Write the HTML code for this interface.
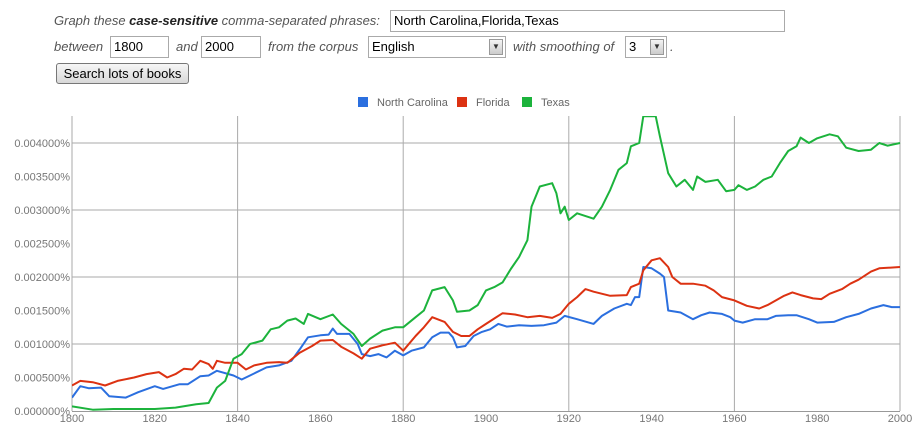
<!DOCTYPE html>
<html><head><meta charset="utf-8"><style>
body{margin:0;width:916px;height:437px;background:#fff;font-family:"Liberation Sans",sans-serif;position:relative;overflow:hidden}
.t{position:absolute;font-style:italic;font-size:13px;color:#555;}
.in{position:absolute;border:1px solid #aaa;background:#fff;font-size:13px;color:#000;box-sizing:border-box;padding:2px 3px;height:22px;line-height:16px}
.sel .arr{position:absolute;right:2px;top:2px;width:14px;height:16px;border:1px solid #999;background:linear-gradient(#f4f4f4,#ccc);box-sizing:border-box;font-size:8px;text-align:center;line-height:14px;color:#333}
</style></head><body>
<span class="t" style="left:54px;top:13px">Graph these <b style="color:#222">case-sensitive</b> comma-separated phrases:</span>
<div class="in" style="left:390px;top:10px;width:395px">North Carolina,Florida,Texas</div>
<span class="t" style="left:54px;top:39px">between</span>
<div class="in" style="left:110px;top:36px;width:59px">1800</div>
<span class="t" style="left:176px;top:39px">and</span>
<div class="in" style="left:201px;top:36px;width:60px">2000</div>
<span class="t" style="left:268px;top:39px">from the corpus</span>
<div class="in sel" style="left:368px;top:36px;width:138px">English<span class="arr">▼</span></div>
<span class="t" style="left:513px;top:39px">with smoothing of</span>
<div class="in sel" style="left:625px;top:36px;width:42px">3<span class="arr">▼</span></div>
<span class="t" style="left:670px;top:39px">.</span>
<div style="position:absolute;left:56px;top:63px;width:133px;height:21px;box-sizing:border-box;border:1px solid #777;border-radius:3px;background:linear-gradient(#f6f6f6,#d8d8d8);font-size:13px;text-align:center;line-height:19px;color:#000">Search lots of books</div>
<svg id="chart" width="916" height="437" style="position:absolute;left:0;top:0"></svg>
<script>
const ncYears=[1800,1802,1804,1807,1809,1813,1816,1820,1822,1826,1828,1831,1833,1835,1839,1841,1843,1847,1850,1853,1855,1857,1860,1862,1863,1864,1867,1869,1870,1872,1874,1876,1878,1880,1882,1885,1887,1889,1891,1892,1893,1895,1897,1899,1901,1903,1905,1908,1911,1914,1917,1919,1922,1926,1928,1931,1934,1935,1936,1937,1938,1940,1942,1943,1944,1947,1950,1952,1954,1957,1959,1960,1962,1965,1968,1970,1973,1975,1978,1980,1984,1987,1990,1993,1996,1998,2000];
const ncValues=[0.2,0.37,0.34,0.35,0.22,0.2,0.28,0.37,0.33,0.4,0.4,0.52,0.53,0.6,0.53,0.47,0.53,0.65,0.68,0.75,0.92,1.1,1.13,1.14,1.23,1.15,1.15,1.0,0.85,0.82,0.85,0.8,0.9,0.83,0.9,0.95,1.1,1.17,1.17,1.1,0.95,0.97,1.12,1.18,1.22,1.3,1.26,1.28,1.27,1.28,1.32,1.42,1.37,1.3,1.42,1.53,1.6,1.58,1.7,1.7,2.15,2.13,2.05,2.0,1.5,1.47,1.37,1.43,1.47,1.45,1.4,1.35,1.32,1.37,1.37,1.42,1.43,1.43,1.37,1.32,1.33,1.4,1.45,1.53,1.58,1.55,1.55];
const flYears=[1800,1802,1805,1808,1811,1815,1818,1821,1823,1825,1827,1829,1831,1833,1834,1835,1837,1840,1842,1844,1847,1850,1852,1855,1858,1860,1863,1865,1868,1870,1872,1875,1878,1880,1883,1885,1887,1890,1892,1894,1896,1898,1900,1902,1904,1907,1910,1913,1916,1918,1920,1922,1924,1926,1930,1934,1935,1937,1938,1940,1942,1944,1945,1947,1950,1953,1955,1957,1960,1963,1966,1968,1972,1974,1976,1979,1981,1983,1986,1988,1990,1993,1995,2000];
const flValues=[0.38,0.45,0.43,0.38,0.45,0.5,0.55,0.58,0.5,0.55,0.63,0.62,0.75,0.7,0.63,0.75,0.72,0.72,0.62,0.68,0.72,0.73,0.72,0.87,0.97,1.05,1.06,0.96,0.86,0.78,0.93,0.98,1.02,0.9,1.12,1.25,1.4,1.33,1.18,1.12,1.12,1.22,1.3,1.38,1.46,1.44,1.4,1.42,1.39,1.45,1.6,1.7,1.82,1.78,1.72,1.73,1.85,1.9,2.1,2.25,2.28,2.15,2.0,1.9,1.9,1.87,1.8,1.7,1.65,1.57,1.53,1.58,1.72,1.77,1.73,1.68,1.67,1.75,1.82,1.9,1.96,2.08,2.13,2.15];
const txYears=[1800,1805,1810,1820,1825,1830,1833,1835,1837,1839,1841,1843,1846,1848,1850,1852,1854,1856,1857,1860,1863,1865,1868,1870,1872,1875,1878,1880,1883,1885,1887,1890,1892,1893,1896,1898,1900,1902,1904,1906,1908,1910,1911,1913,1916,1917,1918,1919,1920,1922,1926,1928,1930,1932,1934,1935,1937,1938,1941,1942,1944,1946,1948,1950,1951,1953,1956,1958,1960,1961,1963,1965,1967,1969,1971,1973,1975,1976,1978,1980,1983,1985,1987,1990,1993,1995,1997,2000];
const txValues=[0.07,0.02,0.03,0.03,0.05,0.1,0.12,0.35,0.45,0.78,0.85,1.0,1.05,1.22,1.25,1.35,1.38,1.3,1.45,1.37,1.44,1.3,1.15,0.97,1.08,1.2,1.25,1.25,1.4,1.5,1.8,1.85,1.65,1.48,1.5,1.58,1.8,1.85,1.92,2.12,2.3,2.55,3.05,3.35,3.4,3.25,2.95,3.05,2.85,2.95,2.87,3.05,3.3,3.6,3.7,3.95,4.0,4.4,4.4,4.1,3.55,3.35,3.45,3.3,3.5,3.42,3.45,3.28,3.3,3.37,3.3,3.35,3.45,3.5,3.7,3.88,3.95,4.08,4.0,4.07,4.13,4.1,3.93,3.88,3.9,4.0,3.96,4.0];
const yTickValues=[0,0.5,1,1.5,2,2.5,3,3.5,4];
const yTickLabels=["0.000000%","0.000500%","0.001000%","0.001500%","0.002000%","0.002500%","0.003000%","0.003500%","0.004000%"];
const xTicks=[1800,1820,1840,1860,1880,1900,1920,1940,1960,1980,2000];
const seriesNames=["North Carolina","Florida","Texas"];
const seriesColors=["#2b6fdf","#dc3212","#1cb33c"];

const svg=document.getElementById('chart');const NS='http://www.w3.org/2000/svg';
const X=y=>72+(y-1800)*(900-72)/200;
const Y=v=>411-v*67;
function mk(t,a,p){const e=document.createElementNS(NS,t);for(const k in a)e.setAttribute(k,a[k]);(p||svg).appendChild(e);return e;}
const clip=mk('clipPath',{id:'pc'});mk('rect',{x:72,y:116,width:829,height:296},clip);
// gridlines
[1,2,3,4].forEach(v=>{const l=mk('line',{x1:72,x2:900,y1:Y(v),y2:Y(v),stroke:'#aaa','stroke-width':1});

});
[1800,1840,1880,1920,1960,2000].forEach(yr=>{const l=mk('line',{x1:X(yr),x2:X(yr),y1:116,y2:411,stroke:'#aaa','stroke-width':1});

});
const ax=mk('line',{x1:72,x2:900,y1:411.5,y2:411.5,stroke:'#999'});


yTickValues.forEach((v,i)=>{const t=mk('text',{x:70,y:Y(v)+4,'text-anchor':'end','font-size':11,fill:'#777'});t.textContent=yTickLabels[i];

});
xTicks.forEach(yr=>{const t=mk('text',{x:X(yr),y:422,'text-anchor':'middle','font-size':11,fill:'#777'});t.textContent=yr;

});
const data=[[ncYears,ncValues],[flYears,flValues],[txYears,txValues]];
data.forEach((d,i)=>{const pts=d[0].map((yr,j)=>X(yr).toFixed(1)+','+Y(d[1][j]).toFixed(1)).join(' ');
const p=mk('polyline',{points:pts,fill:'none',stroke:seriesColors[i],'stroke-width':2,'clip-path':'url(#pc)','stroke-linejoin':'round'});

});
const lx=[358,457,522];
seriesNames.forEach((n,i)=>{const r=mk('rect',{x:lx[i],y:97,width:10,height:10,fill:seriesColors[i]});


const t=mk('text',{x:lx[i]+19,y:106,'font-size':11,fill:'#666'});t.textContent=n;

});
</script>
</body></html>
